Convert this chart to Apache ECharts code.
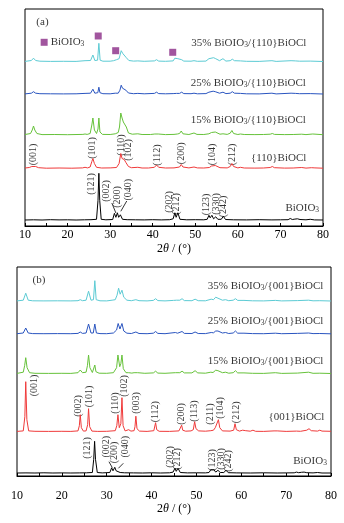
<!DOCTYPE html>
<html>
<head>
<meta charset="utf-8">
<title>XRD</title>
<script src="https://cdn.jsdelivr.net/npm/echarts@6/dist/echarts.min.js"></script>
<style>
body{margin:0;background:#fff}
#main{width:344px;height:523px}
</style>
</head>
<body>
<div id="main"></div>
<script>
// 2theta / relative intensity (height above own baseline)
var blackA = [[10,0.3],[12,0.5],[14,0.3],[16,0.6],[18,0.4],[20,0.5],[22,0.3],[24,0.5],[25.5,0.6],[26.8,1],[27.15,20],[27.35,47],[27.55,20],[27.9,1],[29,0.5],[30.6,0.8],[31.0,7],[31.35,3],[31.7,7.5],[32.0,3],[32.4,5.5],[32.9,1],[34,0.6],[36,0.5],[38,0.4],[40,0.6],[42,0.4],[44,0.6],[44.8,1.5],[45.2,7.5],[45.5,3],[45.9,7.5],[46.4,1],[48,0.5],[50,0.6],[52,0.5],[52.8,1],[53.2,5],[53.5,2.5],[53.9,5],[54.3,1.5],[54.8,3.5],[55.3,1],[56.1,1],[56.6,4],[57.1,0.8],[59,0.5],[62,0.4],[65,0.6],[68,0.4],[70,0.5],[71.8,0.6],[72.3,1.8],[72.8,0.8],[73.4,1.2],[74,1.5],[74.6,0.8],[76,0.5],[77,1],[78,0.4],[80,0.3]];
var redA = [[10,0.5],[11,1],[11.6,2],[12.0,3.3],[12.5,2],[13.2,0.8],[15,0.3],[18,0.5],[21,0.3],[23.5,0.6],[24.1,1.2],[24.7,0.6],[25.3,1.5],[25.7,7],[25.95,10],[26.3,5],[26.8,1.2],[28,0.5],[30,0.6],[31.5,1],[32.1,5],[32.5,15],[32.8,10],[33.3,9],[33.7,6],[34.3,2],[35,0.8],[36.5,1.2],[37.5,0.5],[39,0.5],[40.4,1.2],[40.9,3.5],[41.4,1.2],[43,0.5],[45,0.6],[46.3,1.5],[46.7,4],[47.1,1.5],[48.5,0.6],[49.7,1.5],[50.5,0.6],[52,0.5],[53.3,1],[53.8,2.5],[54.2,4],[54.7,3],[55.1,2.2],[55.8,0.8],[57.5,0.6],[58.2,2],[58.6,5],[59.0,2],[60,0.6],[60.6,1.2],[61.5,0.5],[64,0.4],[66,0.5],[67.6,1],[68.1,2],[68.6,0.8],[71,0.4],[73,0.5],[75,1],[76,0.4],[77.3,0.8],[77.6,1.5],[78.1,0.6],[80,0.3]];
var greenA = [[10,0.5],[11.3,1.5],[11.7,5],[12.0,9],[12.3,5],[12.8,1.5],[14,0.4],[17,0.5],[20,0.3],[23.6,0.6],[24.1,1],[24.6,0.6],[25.3,1.5],[25.7,10],[25.95,17],[26.3,5],[26.8,1.5],[27.15,6],[27.35,17],[27.6,3],[28.2,0.6],[30,0.5],[31.2,1.2],[31.5,2],[31.9,2.5],[32.2,8],[32.5,22],[32.8,17],[33.1,13],[33.4,15],[33.8,8],[34.3,2],[35.2,0.8],[36.5,1.2],[37.5,0.5],[39.5,0.5],[40.5,1],[40.9,3],[41.3,1],[43,0.4],[45,0.6],[45.3,1.5],[45.8,1],[46.3,1.5],[46.7,4],[47.1,1.2],[48.5,0.5],[49.7,2],[50.4,0.6],[52,0.5],[53.2,1.2],[53.8,2.5],[54.2,4],[54.7,3],[55.1,2],[55.8,0.8],[56.5,1.2],[57.5,0.6],[58.2,1.8],[58.6,4.5],[59,1.5],[60,0.5],[60.6,1],[61.5,0.5],[64,0.4],[66,0.5],[67.6,0.8],[68.1,1.5],[68.6,0.6],[71,0.4],[73,0.5],[75,0.8],[76,0.4],[77.6,1],[80,0.3]];
var blueA = [[10,0.3],[11.5,1],[12,2.5],[12.5,1],[13.5,0.5],[16,0.4],[19,0.3],[22,0.4],[24.1,0.8],[25.4,1],[25.95,5],[26.4,1],[27.1,1.5],[27.35,7],[27.6,1.5],[28.3,0.5],[30,0.4],[31.2,1],[31.5,1.5],[31.9,1],[32.3,4],[32.6,9],[32.9,6],[33.3,6],[33.7,4],[34.3,1.2],[35.5,0.5],[36.5,0.8],[38,0.4],[40.4,0.8],[40.9,2],[41.4,0.6],[43,0.4],[44.8,0.6],[45.2,1.5],[45.6,0.8],[45.9,1.5],[46.3,0.8],[46.8,2],[47.3,0.6],[49,0.5],[49.7,1],[50.5,0.4],[52.5,0.6],[53.2,2],[53.6,1.5],[54.2,3],[54.7,2.5],[55.1,2],[55.7,1],[56.5,2],[57.2,0.6],[58.2,1],[58.7,2.5],[59.2,1],[60.6,0.8],[62,0.4],[65,0.3],[68,1],[69,0.3],[72.5,1],[73.5,0.8],[74.5,0.5],[77,0.6],[80,0.2]];
var cyanA = [[10,0.3],[11.5,1.2],[12,3.5],[12.5,1.2],[13.5,0.5],[16,0.3],[19,0.4],[22,0.3],[24.1,1],[25.4,1.2],[25.95,6.7],[26.4,1.2],[27.05,1.5],[27.35,18.4],[27.65,1.5],[28.3,0.5],[30,0.5],[30.8,1],[31.2,3],[31.5,2],[31.8,4],[32.1,3],[32.6,11],[33,8],[33.4,8.4],[33.8,4],[34.4,1.2],[35.5,0.6],[36.5,0.8],[38,0.4],[40.4,0.8],[40.9,2],[41.4,0.6],[43,0.4],[44.8,0.8],[45.2,3.5],[45.55,1.5],[45.9,3],[46.3,1.5],[46.8,2],[47.3,0.6],[49,0.5],[49.7,1],[50.5,0.4],[52.5,0.6],[53.2,3],[53.6,2.5],[54.3,4],[54.8,3],[55.1,3],[55.7,1],[56.5,3],[57.2,0.6],[58.2,1],[58.7,2.5],[59.2,1],[60.6,0.8],[62,0.4],[65,0.3],[68,1],[69,0.3],[72.5,1],[73.5,0.8],[74.5,0.5],[77,0.6],[80,0.2]];

var blackB = [[10,0.3],[12,0.4],[14,0.3],[16,0.5],[18,0.3],[20,0.4],[22,0.3],[24,0.4],[25.5,0.5],[26.8,0.8],[27.1,14],[27.3,32],[27.5,14],[27.9,0.8],[29,0.4],[30.7,0.8],[31.1,5.5],[31.4,2.5],[31.8,6],[32.1,2.5],[32.5,4.5],[33,0.8],[34,0.5],[36,0.4],[38,0.3],[40,0.5],[42,0.3],[44,0.5],[44.8,1.2],[45.2,5],[45.5,2],[45.9,5],[46.4,0.8],[48,0.4],[50,0.5],[52,0.4],[52.8,0.8],[53.2,3.5],[53.5,2],[53.9,3.5],[54.3,1.2],[54.8,3],[55.3,0.8],[56.1,0.8],[56.6,3],[57.1,0.6],[59,0.4],[62,0.3],[65,0.5],[68,0.3],[70,0.4],[71.8,0.5],[72.3,1.2],[72.8,0.6],[73.4,1],[74,1.2],[74.6,0.6],[76,0.4],[77,0.8],[78,0.3],[80,0.3]];
var redB = [[10,0.3],[11.4,0.8],[11.75,15],[11.95,50],[12.2,12],[12.6,0.8],[14,0.4],[17,0.3],[20,0.4],[22,0.3],[23.6,0.8],[23.9,6],[24.1,17],[24.35,4],[24.8,0.6],[25.4,0.8],[25.75,7],[25.95,23],[26.2,5],[26.7,0.6],[28,0.3],[30,0.4],[31.9,1],[32.25,6],[32.5,17],[32.8,4],[33.15,8],[33.4,34],[33.65,6],[34.1,0.8],[34.9,2],[35.4,0.6],[36.1,1],[36.3,5],[36.5,15.5],[36.75,3],[37.3,0.6],[39,0.3],[40.5,1],[40.7,3],[40.9,9],[41.15,2],[41.7,0.4],[44,0.3],[46.1,0.8],[46.5,2],[46.7,6.5],[46.95,1.5],[47.6,0.5],[48.8,0.8],[49.3,2],[49.6,10],[49.9,3],[50.5,0.8],[52,0.5],[53.2,1],[53.5,2.5],[53.8,1.5],[54.2,4],[54.6,6],[54.9,12],[55.2,4],[55.8,0.8],[57.5,0.6],[58.3,1.5],[58.6,8],[58.9,2],[59.6,0.6],[60.3,1.5],[60.6,3],[61,1],[62,0.5],[62.6,1.5],[63.2,0.4],[65,0.3],[67.3,0.8],[67.6,2],[68,0.8],[70,0.3],[72.3,0.6],[72.6,1],[73.2,0.4],[74.6,1.5],[75.1,3],[75.6,1],[77,0.6],[77.5,1.5],[78,0.6],[80,0.4]];
var greenB = [[10,0.3],[11.4,1.5],[11.7,8],[11.95,16],[12.25,6],[12.8,1],[14,0.4],[17,0.3],[20,0.4],[22,0.3],[23.6,1],[24.1,3.7],[24.6,1],[25.4,1.5],[25.7,8],[25.95,18.7],[26.25,6],[26.8,1.2],[27.1,3],[27.35,8.7],[27.6,2],[28.3,0.5],[30,0.4],[31.5,1],[32.2,6],[32.5,18.7],[32.9,7],[33.15,10],[33.4,18.7],[33.7,5],[34.3,1],[34.9,1],[35.6,0.6],[36.1,1],[36.5,3],[36.9,1],[38.5,0.4],[40.4,0.8],[40.9,2.5],[41.4,0.6],[43,0.4],[45.3,1],[46.3,1],[46.8,2.5],[47.3,0.8],[49,0.8],[49.7,3],[50.3,0.8],[52,0.5],[53.2,1.5],[53.7,1.2],[54.3,3.5],[54.8,3],[55.2,2.5],[55.8,1],[56.5,1.5],[57.2,0.5],[58.2,1],[58.7,3],[59.2,0.8],[60.6,0.8],[62.5,0.4],[65,0.3],[67.6,1],[69,0.3],[72.5,0.6],[75,1.5],[76,0.4],[77.5,0.5],[80,0.2]];
var blueB = [[10,0.3],[11.4,1],[11.95,6],[12.5,1],[13.5,0.4],[16,0.3],[19,0.4],[22,0.3],[23.6,0.6],[24.1,2],[24.6,0.6],[25.4,1],[25.95,10],[26.5,1],[27.0,1],[27.35,10],[27.7,1],[28.5,0.4],[30,0.3],[31.5,1],[32.2,4],[32.55,10.5],[32.95,5],[33.4,10.5],[33.8,3],[34.5,0.8],[35.5,0.5],[36.5,2],[37.2,0.5],[39,0.3],[40.4,0.8],[40.9,2.5],[41.4,0.6],[43,0.3],[45.3,1.5],[45.8,0.8],[46.8,2.5],[47.3,0.6],[49,0.5],[49.7,2],[50.4,0.5],[52,0.4],[53.3,1.5],[53.8,1.2],[54.3,3],[54.8,3],[55.2,2.5],[55.8,1],[56.5,1.5],[57.2,0.5],[58.2,1],[58.7,3],[59.2,0.8],[60.6,0.8],[62.5,0.4],[65,0.3],[67.6,0.8],[69,0.3],[72.5,0.6],[75,1],[76,0.4],[77.5,0.5],[80,0.2]];
var cyanB = [[10,0.3],[11.4,1],[11.95,8],[12.5,1],[13.5,0.4],[16,0.3],[19,0.4],[22,0.3],[23.6,0.5],[24.1,1.5],[24.6,0.5],[25.4,1],[25.95,10],[26.5,1],[27.05,1.5],[27.35,20.5],[27.65,1.5],[28.5,0.4],[30,0.3],[31.2,1],[31.5,1.5],[31.9,1.5],[32.3,6],[32.65,13],[33,7],[33.4,11],[33.8,4],[34.5,1],[35.5,0.5],[36.5,1.5],[37.2,0.5],[39,0.3],[40.4,0.8],[40.9,2.5],[41.4,0.6],[43,0.3],[44.9,0.8],[45.2,2],[45.55,1],[45.9,2],[46.3,1],[46.8,2.5],[47.3,0.6],[49,0.5],[49.7,2],[50.4,0.5],[52,0.4],[53.3,2],[53.8,1.5],[54.3,4],[54.8,3],[55.2,2.5],[55.8,1],[56.5,1.5],[57.2,0.5],[58.2,1],[58.7,2.5],[59.2,0.8],[60.6,0.8],[62.5,0.4],[65,0.3],[67.6,0.8],[69,0.3],[72.5,0.6],[75,1],[76,0.4],[77.5,0.5],[80,0.2]];

// vertical stacking offsets: black, red, green, blue, cyan
var offsetsA = [5.7, 57.5, 91, 131.8, 164.3];
var offsetsB = [2.7, 44.3, 102.3, 142, 174.8];

var namesA = ['BiOIO{s|3}', '{110}BiOCl', '15% BiOIO{s|3}/{110}BiOCl', '25% BiOIO{s|3}/{110}BiOCl', '35% BiOIO{s|3}/{110}BiOCl'];
var namesB = ['BiOIO{s|3}', '{001}BiOCl', '15% BiOIO{s|3}/{001}BiOCl', '25% BiOIO{s|3}/{001}BiOCl', '35% BiOIO{s|3}/{001}BiOCl'];
var nameAtA = [[79.2,17.7],[76.2,67.7],[76.1,106],[76.1,143.3],[76.2,182.7]];
var nameAtB = [[79.2,15.2],[78.6,59],[78.4,115.3],[78.4,155.3],[78.4,190.3]];

// hkl annotations [2theta, height, text]
var hklRedA = [[12.0,71.5,'(001)'],[25.9,78,'(101)'],[32.6,81,'(110)'],[34.3,76,'(102)'],[41.0,71,'(112)'],[46.8,72.7,'(200)'],[54.1,71.5,'(104)'],[58.7,71.5,'(212)']];
var hklBlackA = [[25.7,42,'(121)'],[29.2,35,'(002)'],[31.7,29,'(200)'],[34.3,36.3,'(040)'],[43.9,24,'(202)'],[45.5,22,'(212)'],[52.7,21.5,'(123)'],[54.9,22,'(330)'],[56.7,19.5,'(242)']];
var hklRedB = [[13.9,90.5,'(001)'],[23.6,70,'(002)'],[26.2,79.5,'(101)'],[32.0,73,'(110)'],[34.0,90,'(102)'],[36.6,73,'(003)'],[40.9,64.3,'(112)'],[46.7,62,'(200)'],[49.5,65,'(113)'],[53.2,62,'(211)'],[55.3,68,'(104)'],[58.8,63.7,'(212)']];
var hklBlackB = [[25.7,28,'(121)'],[30.0,29.3,'(002)'],[31.6,23.5,'(200)'],[34.2,29.3,'(040)'],[44.3,19,'(202)'],[45.8,17,'(212)'],[53.5,16,'(123)'],[55.5,17,'(330)'],[57.2,15,'(242)']];
var arrowsA = [[[30.4,23],[31.35,13]],[[33.9,25],[32.5,14.7]]];
var arrowsB = [[[30.5,14.3],[31.25,8.3]],[[33.7,12.7],[32.6,7.7]]];

// BiOIO3 marks in panel (a)
var markA = [[27.2,190],[31.3,175.3],[44.7,173.7]];
var markLegend = [[14.5,183.7]];

var xTicks = [10, 20, 30, 40, 50, 60, 70, 80];

var colors = ['#000000', '#f03a3a', '#66c23a', '#2a55c0', '#5ccbd4'];
var purple = '#8a2a86';
var FONT = '"Liberation Serif", "Times New Roman", serif';
var subRich = {s: {fontSize: 7.5, fontFamily: FONT, color: '#000', lineHeight: 4, verticalAlign: 'bottom'}};

function shift(data, off) {
    return data.map(function (p) { return [p[0], p[1] + off]; });
}

function traceSeries(data, off, color, g, arrows) {
    var s = {
        type: 'line', xAxisIndex: g, yAxisIndex: g,
        data: shift(data, off), symbol: 'none', silent: true,
        lineStyle: {width: 1, color: color}
    };
    if (arrows) {
        s.markLine = {
            silent: true, symbol: ['none', 'arrow'], symbolSize: [0, 5], label: {show: false},
            lineStyle: {color: '#000', width: 0.8, type: 'solid'},
            data: arrows.map(function (a) { return [{coord: a[0]}, {coord: a[1]}]; })
        };
    }
    return s;
}

function textSeries(items, g, opt) {
    return {
        type: 'scatter', xAxisIndex: g, yAxisIndex: g, silent: true,
        symbolSize: 1, itemStyle: {color: 'transparent'},
        data: items,
        label: Object.assign({
            show: true, color: '#000', fontFamily: FONT,
            formatter: function (p) { return p.data[2]; }
        }, opt)
    };
}

function hklSeries(items, g) {
    return textSeries(items, g, {position: 'inside', rotate: 90, fontSize: 10});
}

function nameSeries(names, at, g) {
    var items = at.map(function (p, i) { return [p[0], p[1], names[i]]; });
    return textSeries(items, g, {position: 'left', distance: 0, fontSize: 11, lineHeight: 12, rich: subRich});
}

var grids = [
    {left: 25, right: 21, top: 9, height: 217},
    {left: 17, right: 13, top: 267, height: 209}
];

function xAxis(g, margin, gap) {
    return {
        type: 'value', gridIndex: g, min: 10, max: 80, interval: 5,
        axisLine: {lineStyle: {color: '#000', width: 1}},
        axisTick: {inside: true, length: 3, lineStyle: {color: '#000'}},
        axisLabel: {
            color: '#000', fontSize: 12, fontFamily: FONT, margin: margin,
            formatter: function (v) { return xTicks.indexOf(v) >= 0 ? v : ''; }
        },
        splitLine: {show: false},
        name: '2{i|θ} / (°)', nameLocation: 'middle', nameGap: gap,
        nameTextStyle: {color: '#000', fontSize: 12, fontFamily: FONT, rich: {i: {fontStyle: 'italic', fontSize: 12, fontFamily: FONT}}}
    };
}

function yAxis(g) {
    return {type: 'value', gridIndex: g, min: 0, max: grids[g].height, show: false};
}

var series = [];
[blackA, redA, greenA, blueA, cyanA].forEach(function (d, i) {
    series.push(traceSeries(d, offsetsA[i], colors[i], 0, i === 0 ? arrowsA : null));
});
[blackB, redB, greenB, blueB, cyanB].forEach(function (d, i) {
    series.push(traceSeries(d, offsetsB[i], colors[i], 1, i === 0 ? arrowsB : null));
});
series.push(hklSeries(hklRedA, 0), hklSeries(hklBlackA, 0), hklSeries(hklRedB, 1), hklSeries(hklBlackB, 1));
series.push(nameSeries(namesA, nameAtA, 0), nameSeries(namesB, nameAtB, 1));
series.push(textSeries([[14.1, 203.5, '(a)']], 0, {position: 'inside', fontSize: 11}));
series.push(textSeries([[14.9, 195.5, '(b)']], 1, {position: 'inside', fontSize: 11}));
series.push({
    type: 'scatter', xAxisIndex: 0, yAxisIndex: 0, silent: true,
    symbol: 'rect', symbolSize: 7, itemStyle: {color: purple}, data: markA
});
series.push({
    type: 'scatter', xAxisIndex: 0, yAxisIndex: 0, silent: true,
    symbol: 'rect', symbolSize: 7, itemStyle: {color: purple}, data: markLegend,
    label: {show: true, position: 'right', distance: 3, color: '#000', fontFamily: FONT, fontSize: 11, lineHeight: 12,
        formatter: 'BiOIO{s|3}', rich: subRich}
});

var myChart = echarts.init(document.getElementById('main'));
myChart.setOption({
    animation: false,
    backgroundColor: '#fff',
    grid: grids.map(function (g) {
        return Object.assign({show: true, borderColor: '#000', borderWidth: 1, backgroundColor: 'transparent'}, g);
    }),
    xAxis: [xAxis(0, 3, 17), xAxis(1, 14, 27)],
    yAxis: [yAxis(0), yAxis(1)],
    series: series
});
</script>
</body>
</html>
